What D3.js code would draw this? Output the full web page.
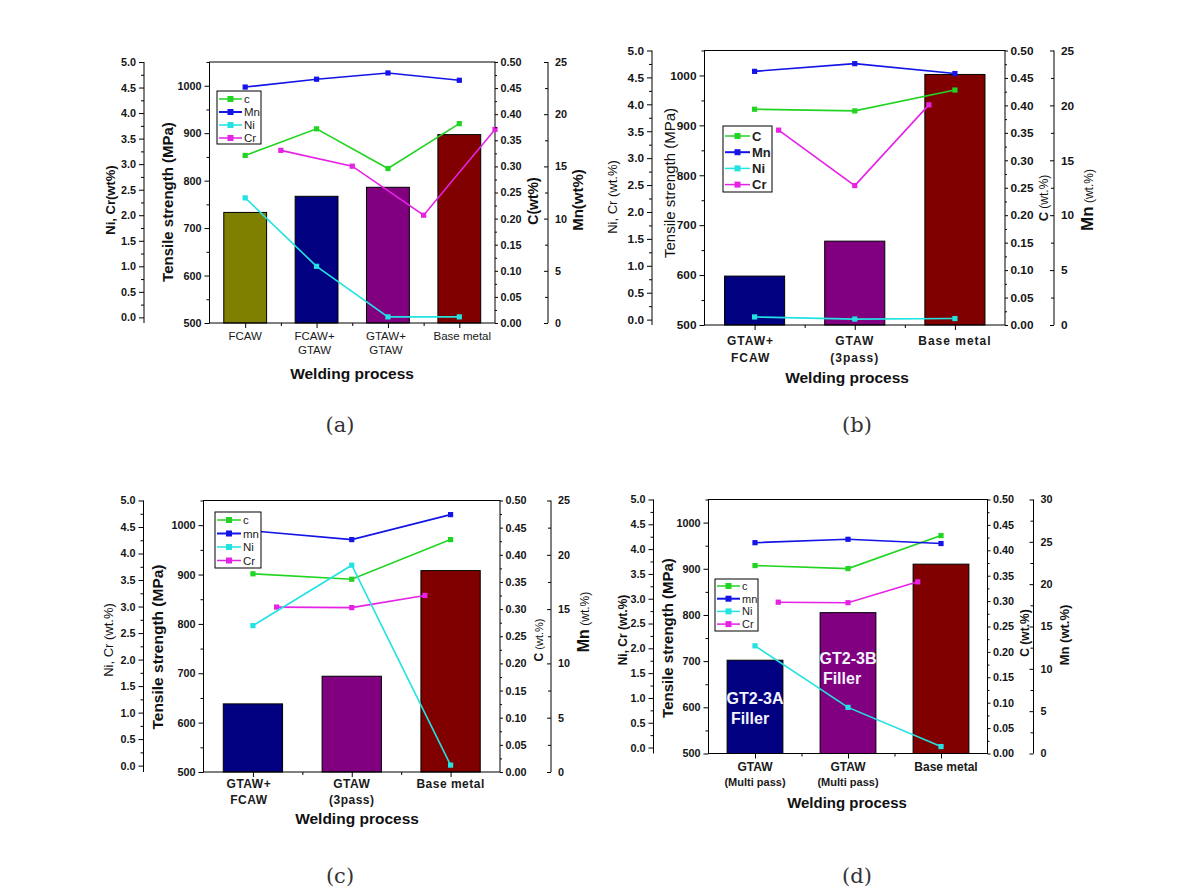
<!DOCTYPE html>
<html><head><meta charset="utf-8">
<script src="https://cdn.jsdelivr.net/npm/d3@7"></script>
<style>
body{margin:0;background:#fff;}
svg{display:block;font-family:"Liberation Sans",Arial,sans-serif;}
</style>
</head><body>
<svg id="chart" width="1177" height="893"></svg>
<script>
// ---------------- DATA ----------------
const tensileTicks = [500, 600, 700, 800, 900, 1000];
const niCrTicks = [0, 0.5, 1, 1.5, 2, 2.5, 3, 3.5, 4, 4.5, 5];
const cTicks = [0, 0.05, 0.1, 0.15, 0.2, 0.25, 0.3, 0.35, 0.4, 0.45, 0.5];
const mnTicks25 = [0, 5, 10, 15, 20, 25];
const mnTicks30 = [0, 5, 10, 15, 20, 25, 30];

// (a)
const aCategories = [["FCAW"], ["FCAW+", "GTAW"], ["GTAW+", "GTAW"], ["Base metal"]];
const aTensile = [733, 767, 786, 897];
const aC  = [0.321, 0.372, 0.296, 0.382];
const aMn = [22.6, 23.35, 23.95, 23.25];
const aNi = [2.34, 1.0, 0.01, 0.01];
const aCr = [3.27, 2.96, 2.0, 3.68];
const aCrPos = [0.5, 1.5, 2.5, 3.5];
const aLegend = ["c", "Mn", "Ni", "Cr"];

// (b)
const bCategories = [["GTAW+", "FCAW"], ["GTAW", "(3pass)"], ["Base metal"]];
const bTensile = [598, 668, 1002];
const bC  = [0.393, 0.39, 0.428];
const bMn = [23.1, 23.8, 22.9];
const bNi = [0.05, 0.01, 0.02];
const bCr = [3.52, 2.49, 3.99];
const bCrPos = [0.24, 1, 1.74];
const bLegend = ["C", "Mn", "Ni", "Cr"];

// (c)
const cCategories = [["GTAW+", "FCAW"], ["GTAW", "(3pass)"], ["Base metal"]];
const cTensile = [638, 694, 908];
const cC  = [0.365, 0.355, 0.428];
const cMn = [22.2, 21.4, 23.7];
const cNi = [2.64, 3.78, 0.01];
const cCr = [2.99, 2.98, 3.21];
const cCrPos = [0.24, 1, 1.74];
const cLegend = ["c", "mn", "Ni", "Cr"];

// (d)
const dCategories = [["GTAW", "(Multi pass)"], ["GTAW", "(Multi pass)"], ["Base metal"]];
const dTensile = [702, 805, 910];
const dC  = [0.37, 0.364, 0.429];
const dMn = [24.9, 25.3, 24.8];
const dNi = [2.05, 0.81, 0.02];
const dCr = [2.93, 2.92, 3.34];
const dCrPos = [0.25, 1, 1.75];
const dLegend = ["c", "mn", "Ni", "Cr"];
const dBarNotes = [["GT2-3A", "Filler"], ["GT2-3B", "Filler"], []];

const captions = ["(a)", "(b)", "(c)", "(d)"];

// ---------------- STYLE ----------------
const COL = {C: "#22d422", Mn: "#1414e6", Ni: "#22e2e2", Cr: "#e622e6"};
const BAR4 = ["#808000", "#000080", "#800080", "#800000"];
const BAR3 = ["#000080", "#800080", "#800000"];

const svg = d3.select("#chart");

function minorOf(ticks) {
  const m = [];
  for (let i = 0; i < ticks.length - 1; i++) m.push((ticks[i] + ticks[i + 1]) / 2);
  return m;
}

function styleAxis(sel, fs) {
  sel.attr("font-family", null).attr("font-size", null);
  sel.select(".domain").remove();
  sel.selectAll(".tick line").attr("stroke", "#000").attr("stroke-width", 1);
  sel.selectAll(".tick text")
    .style("font-size", fs + "px").style("font-weight", "bold").style("fill", "#151515")
    .style("font-family", "'Liberation Sans',Arial,sans-serif");
}

function drawPanel(p) {
  const g = svg.append("g");
  const n = p.categories.length;
  const x = d3.scaleBand().domain(d3.range(n)).range([p.left, p.right]).paddingInner(0.4).paddingOuter(0.2);
  const xp = d3.scaleLinear().domain([-0.5, n - 0.5]).range([p.left, p.right]);
  const yT = d3.scaleLinear().domain([500, 1050]).range([p.bottom, p.top]);
  const yC = d3.scaleLinear().domain([0, 0.5]).range([p.bottom, p.top]);
  const yMn = d3.scaleLinear().domain([0, p.mnMax]).range([p.bottom, p.top]);
  const yNi = d3.scaleLinear().domain([p.niMin, 5]).range([p.bottom, p.top]);

  // bars
  g.append("g").selectAll("rect").data(p.tensile).join("rect")
    .attr("x", (d, i) => x(i)).attr("width", x.bandwidth())
    .attr("y", d => yT(d)).attr("height", d => yT(500) - yT(d))
    .attr("fill", (d, i) => p.barColors[i]).attr("stroke", "#000").attr("stroke-width", 1);

  // bar notes
  if (p.notes) {
    p.notes.forEach((lines, i) => {
      lines.forEach((t, k) => {
        g.append("text").attr("x", x(i) + x.bandwidth() / 2 + p.noteDx[i][k])
          .attr("y", yT(p.tensile[i]) + p.noteDy[i] + k * 20)
          .attr("text-anchor", "middle").style("font-size", "16px").style("font-weight", "bold")
          .attr("fill", "#f4f4ff").text(t);
      });
    });
  }

  // frame
  g.append("rect").attr("x", p.left).attr("y", p.top).attr("width", p.right - p.left)
    .attr("height", p.bottom - p.top).attr("fill", "none").attr("stroke", "#000").attr("stroke-width", 1);

  // series lines
  const series = [
    {key: "C", vals: p.C, pos: d3.range(n), y: yC},
    {key: "Mn", vals: p.Mn, pos: d3.range(n), y: yMn},
    {key: "Ni", vals: p.Ni, pos: d3.range(n), y: yNi},
    {key: "Cr", vals: p.Cr, pos: p.CrPos, y: yNi}
  ];
  const drawOrder = [0, 3, 2, 1];
  drawOrder.forEach(si => {
    const s = series[si];
    const pts = s.vals.map((v, i) => ({p: s.pos[i], v}));
    const line = d3.line().x(d => xp(d.p)).y(d => s.y(d.v));
    g.append("path").datum(pts).attr("d", line).attr("fill", "none")
      .attr("stroke", COL[s.key]).attr("stroke-width", 1.6);
    g.append("g").selectAll("rect").data(pts).join("rect")
      .attr("x", d => xp(d.p) - 2.6).attr("y", d => s.y(d.v) - 2.6)
      .attr("width", 5.2).attr("height", 5.2).attr("fill", COL[s.key]);
  });

  // legend
  const L = p.legend;
  const lg = g.append("g");
  lg.append("rect").attr("x", L.x).attr("y", L.y).attr("width", L.w).attr("height", L.h)
    .attr("fill", "#fff").attr("stroke", "#000").attr("stroke-width", 1);
  ["C", "Mn", "Ni", "Cr"].forEach((k, i) => {
    const yy = L.y + L.first + i * L.step;
    lg.append("line").attr("x1", L.x + 2).attr("x2", L.x + L.len).attr("y1", yy).attr("y2", yy)
      .attr("stroke", COL[k]).attr("stroke-width", k === "Mn" ? 2 : 1.5);
    lg.append("rect").attr("x", L.x + 2 + (L.len - 2) / 2 - 3).attr("y", yy - 3).attr("width", 6).attr("height", 6)
      .attr("fill", COL[k]);
    lg.append("text").attr("x", L.x + L.len + 2).attr("y", yy + L.fs * 0.36)
      .style("font-size", L.fs + "px").style("font-weight", L.bold ? "bold" : "normal").attr("fill", "#222")
      .text(p.legendLabels[i]);
  });

  // axes
  const fs = p.tickFs;
  const aT = g.append("g").attr("transform", `translate(${p.left},0)`)
    .call(d3.axisLeft(yT).tickValues(tensileTicks).tickSize(5).tickPadding(3).tickFormat(d3.format("d")));
  styleAxis(aT, fs);
  const aTm = g.append("g").attr("transform", `translate(${p.left},0)`)
    .call(d3.axisLeft(yT).tickValues([550, 650, 750, 850, 950, 1050]).tickSize(3).tickFormat(""));
  styleAxis(aTm, fs);

  const aN = g.append("g").attr("transform", `translate(${p.niX},0)`)
    .call(d3.axisLeft(yNi).tickValues(niCrTicks).tickSize(5).tickPadding(3).tickFormat(d3.format(".1f")));
  styleAxis(aN, fs);
  const aNm = g.append("g").attr("transform", `translate(${p.niX},0)`)
    .call(d3.axisLeft(yNi).tickValues(minorOf(niCrTicks)).tickSize(3).tickFormat(""));
  styleAxis(aNm, fs);
  g.append("line").attr("x1", p.niX).attr("x2", p.niX).attr("y1", p.top).attr("y2", p.bottom).attr("stroke", "#000");

  const aCx = g.append("g").attr("transform", `translate(${p.right},0)`)
    .call(d3.axisRight(yC).tickValues(cTicks).tickSize(3).tickPadding(2.5).tickFormat(d3.format(".2f")));
  styleAxis(aCx, fs);
  const aCm = g.append("g").attr("transform", `translate(${p.right},0)`)
    .call(d3.axisRight(yC).tickValues(minorOf(cTicks)).tickSize(2).tickFormat(""));
  styleAxis(aCm, fs);

  const aM = g.append("g").attr("transform", `translate(${p.mnX},0)`)
    .call(d3.axisRight(yMn).tickValues(p.mnTicks).tickSize(-4).tickPadding(7).tickFormat(d3.format("d")));
  styleAxis(aM, fs);
  const aMm = g.append("g").attr("transform", `translate(${p.mnX},0)`)
    .call(d3.axisRight(yMn).tickValues(minorOf(p.mnTicks)).tickSize(-3).tickFormat(""));
  styleAxis(aMm, fs);
  g.append("line").attr("x1", p.mnX).attr("x2", p.mnX).attr("y1", yMn(p.mnMax)).attr("y2", p.bottom).attr("stroke", "#000");

  // x axis ticks
  const aX = g.append("g").attr("transform", `translate(0,${p.bottom})`)
    .call(d3.axisBottom(xp).tickValues(d3.range(n)).tickSize(5).tickFormat(""));
  styleAxis(aX, fs);
  const aXm = g.append("g").attr("transform", `translate(0,${p.bottom})`)
    .call(d3.axisBottom(xp).tickValues(d3.range(n - 1).map(i => i + 0.5)).tickSize(3).tickFormat(""));
  styleAxis(aXm, fs);

  // category labels
  p.categories.forEach((lines, i) => {
    lines.forEach((t, k) => {
      g.append("text").attr("x", xp(i) + (p.catDx ? p.catDx[i] : 0))
        .attr("y", p.bottom + p.catDy + k * p.catLh)
        .attr("text-anchor", "middle")
        .style("font-size", (k > 0 && p.cat2Fs ? p.cat2Fs : p.catFs) + "px")
        .style("font-weight", p.catBold ? "bold" : "normal")
        .attr("letter-spacing", p.catLs || 0)
        .attr("fill", "#1a1a1a").text(t);
    });
  });

  // titles (x,y are visual centres)
  p.titles.forEach(t => {
    const tx = g.append("text").attr("transform", `translate(${t.x},${t.y}) rotate(${t.rot || 0})`)
      .attr("text-anchor", "middle").attr("dy", "0.36em").attr("fill", "#111");
    t.parts.forEach(pt => {
      tx.append("tspan").style("font-size", pt.fs + "px").style("font-weight", pt.bold ? "bold" : "normal").text(pt.t);
    });
  });
}

const tl = (txt, x, y, fs, bold, rot) => ({x, y, rot: rot === undefined ? -90 : rot, parts: [{t: txt, fs, bold}]});

drawPanel({
  categories: aCategories, tensile: aTensile, C: aC, Mn: aMn, Ni: aNi, Cr: aCr, CrPos: aCrPos,
  barColors: BAR4, legendLabels: aLegend,
  left: 209.5, right: 495, top: 62, bottom: 323, niX: 144, mnX: 548, mnMax: 25, mnTicks: mnTicks25, niMin: -0.11,
  tickFs: 10.8,
  legend: {x: 217, y: 91, w: 44, h: 53, first: 8, step: 13, len: 25, fs: 11.5, bold: false},
  catDy: 17, catLh: 13.5, catFs: 11.5, catBold: false, catDx: [0, -2, -2, 3],
  titles: [
    tl("Ni, Cr(wt%)", 109, 200, 13, true),
    tl("Tensile strength (MPa)", 167, 202, 15, true),
    tl("C(wt%)", 532, 201, 14, true),
    tl("Mn(wt%)", 577, 200, 15, true),
    tl("Welding process", 352, 373, 15.5, true, 0)
  ]
});

drawPanel({
  categories: bCategories, tensile: bTensile, C: bC, Mn: bMn, Ni: bNi, Cr: bCr, CrPos: bCrPos,
  barColors: BAR3, legendLabels: bLegend,
  left: 704.5, right: 1005, top: 50.5, bottom: 325, niX: 652, mnX: 1054, mnMax: 25, mnTicks: mnTicks25, niMin: -0.1,
  tickFs: 11.8,
  legend: {x: 723, y: 126, w: 49, h: 66, first: 10, step: 16.2, len: 27, fs: 13, bold: true},
  catDy: 19.5, catLh: 17, catFs: 12, catBold: true, catLs: 1, catDx: [-4, 0, 0],
  titles: [
    tl("Ni, Cr (wt.%)", 611, 197, 13, false),
    tl("Tensile strength (MPa)", 669, 183, 15, false),
    {x: 1042, y: 198, rot: -90, parts: [{t: "C", fs: 13, bold: true}, {t: " (wt.%)", fs: 12, bold: false}]},
    {x: 1087, y: 200, rot: -90, parts: [{t: "Mn", fs: 17, bold: true}, {t: " (wt.%)", fs: 12, bold: false}]},
    tl("Welding process", 847, 377, 15.5, true, 0)
  ]
});

drawPanel({
  categories: cCategories, tensile: cTensile, C: cC, Mn: cMn, Ni: cNi, Cr: cCr, CrPos: cCrPos,
  barColors: BAR3, legendLabels: cLegend,
  left: 203.5, right: 500, top: 500.5, bottom: 772, niX: 143.5, mnX: 551, mnMax: 25, mnTicks: mnTicks25, niMin: -0.12,
  tickFs: 10.8,
  legend: {x: 215, y: 512, w: 46, h: 56, first: 8, step: 13.5, len: 26, fs: 11.5, bold: false},
  catDy: 16, catLh: 16, catFs: 12, catBold: true, catLs: 0.5, catDx: [-4, 0, 0],
  titles: [
    tl("Ni, Cr (wt.%)", 107, 640, 13, false),
    tl("Tensile strength (MPa)", 157, 647, 15.5, true),
    {x: 537, y: 640, rot: -90, parts: [{t: "C", fs: 12, bold: true}, {t: " (wt.%)", fs: 11, bold: false}]},
    {x: 583, y: 622, rot: -90, parts: [{t: "Mn", fs: 16, bold: true}, {t: " (wt.%)", fs: 12, bold: false}]},
    tl("Welding process", 357, 818, 15.5, true, 0)
  ]
});

drawPanel({
  categories: dCategories, tensile: dTensile, C: dC, Mn: dMn, Ni: dNi, Cr: dCr, CrPos: dCrPos,
  barColors: BAR3, legendLabels: dLegend,
  notes: dBarNotes, noteDx: [[0, -5], [0, -6], []], noteDy: [44, 51, 0],
  left: 708.5, right: 987.5, top: 499.5, bottom: 753.5, niX: 653.5, mnX: 1033.5, mnMax: 30, mnTicks: mnTicks30, niMin: -0.12,
  tickFs: 10.8,
  legend: {x: 715, y: 579, w: 43, h: 52, first: 7, step: 12.7, len: 25, fs: 11, bold: false},
  catDy: 17, catLh: 15.5, catFs: 12, cat2Fs: 11, catBold: true, catDx: [0, 0, 5],
  titles: [
    tl("Ni, Cr (wt.%)", 621, 630, 12, true),
    tl("Tensile strength (MPa)", 667, 638, 15, true),
    tl("C (wt.%)", 1023, 633, 12, true),
    tl("Mn (wt.%)", 1063, 635, 13, true),
    tl("Welding process", 847, 802, 15, true, 0)
  ]
});

// captions
const capPos = [[340, 432], [857, 432], [340, 883], [857, 883]];
svg.selectAll("text.cap").data(captions).join("text").attr("class", "cap")
  .attr("x", (d, i) => capPos[i][0]).attr("y", (d, i) => capPos[i][1])
  .attr("text-anchor", "middle").attr("font-family", "'DejaVu Serif',serif")
  .style("font-size", "21px").attr("fill", "#333").text(d => d);
</script>
</body></html>
